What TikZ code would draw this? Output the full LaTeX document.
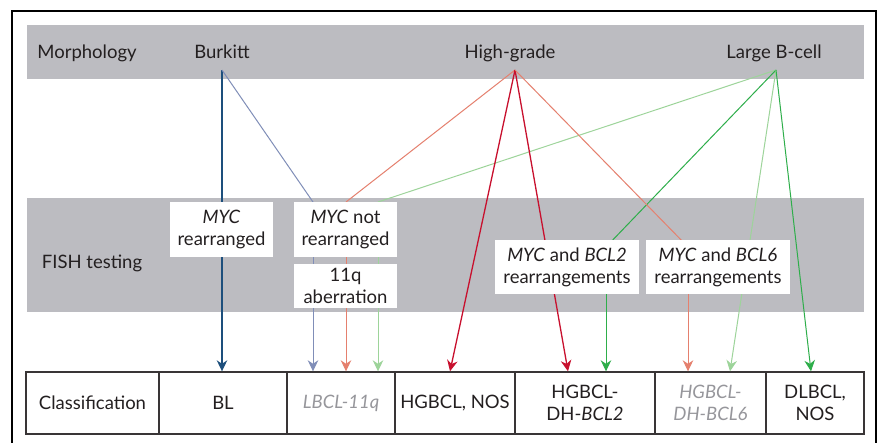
\documentclass[tikz,border=0pt]{standalone}
\usepackage{fontspec}
\setmainfont{Lato}
\usetikzlibrary{arrows.meta,calc}

\definecolor{band}{RGB}{188,188,193}
\definecolor{ink}{RGB}{35,31,32}
\definecolor{dimtext}{RGB}{150,150,155}
\definecolor{navy}{RGB}{29,79,124}
\definecolor{slate}{RGB}{128,142,184}
\definecolor{salmon}{RGB}{229,128,110}
\definecolor{crimson}{RGB}{200,16,46}
\definecolor{leaf}{RGB}{46,174,74}
\definecolor{paleleaf}{RGB}{157,212,154}

\tikzset{
  lbl/.style={text=ink, font=\fontsize{18.5}{22}\selectfont, inner sep=0pt, anchor=base},
  fishbox/.style={fill=white, text=ink, align=center, inner sep=0pt,
    font=\fontsize{18.5}{22}\selectfont},
  cell/.style={draw=ink!90, line width=1.4pt, text=ink, align=center,
    inner sep=0pt, font=\fontsize{18.5}{22}\selectfont},
  link/.style={line width=1pt},
  tip/.style={-{Stealth[length=11pt,width=10.5pt,inset=3.5pt]}},
}

\begin{document}
\begin{tikzpicture}[x=1pt,y=-1pt]
\useasboundingbox (0,0) rectangle (878,442);
\fill[white] (0,0) rectangle (878,442);

% outer frame
\draw[black, line width=2pt] (12,443) -- (12,11) -- (876,11) -- (876,443);

% grey bands
\fill[band] (27,25) rectangle (864,79);
\fill[band] (27,198) rectangle (864,312);

% band labels (placed on their baselines)
\node[lbl] (morph) at (87,58.3) {Morphology};
\node[lbl] (burkitt) at (222,58.3) {Burkitt};
\node[lbl] (highgrade) at (510,58.3) {High-grade};
\node[lbl] (largeb) at (774,58.3) {Large B-cell};
\node[lbl] (fish) at (92,268.3) {FISH testing};

% start points under the morphology labels
\coordinate (bk) at (222,70);
\coordinate (hg) at (515,70);
\coordinate (lb) at (776,70);

% classification table
\node[cell, minimum width=133pt, minimum height=62pt] (cls) at (92.5,403) {Classification};
\node[cell, minimum width=128pt, minimum height=62pt] (bl) at (223,403) {BL};
\node[cell, minimum width=108pt, minimum height=62pt, text=dimtext] (lbcl) at (341,403) {\itshape LBCL-11q};
\node[cell, minimum width=120pt, minimum height=62pt] (hgnos) at (455,403) {HGBCL, NOS};
\node[cell, minimum width=140pt, minimum height=62pt] (dh2) at (585,403) {HGBCL-\\DH-\textit{BCL2}};
\node[cell, minimum width=111pt, minimum height=62pt, text=dimtext] (dh6) at (710.5,403) {\itshape HGBCL-\\\itshape DH-BCL6};
\node[cell, minimum width=98pt, minimum height=62pt] (dlbcl) at (815,403) {DLBCL,\\NOS};

% junction points behind the FISH boxes
\coordinate (j1) at (313,202);
\coordinate (j2) at (346,202);
\coordinate (j3) at (378,202);
\coordinate (j4) at (606,247);
\coordinate (j5) at (688,247);

% connectors
\draw[link, navy, line width=1.4pt, tip] (bk) -- (bk |- bl.north);
\draw[link, slate] (bk) -- (j1);
\draw[link, slate, tip] (j1) -- (j1 |- lbcl.north);
\draw[link, salmon] (hg) -- (j2);
\draw[link, salmon, tip] (j2) -- (j2 |- lbcl.north);
\draw[link, paleleaf] (lb) -- (j3);
\draw[link, paleleaf, tip] (j3) -- (j3 |- lbcl.north);
\draw[link, crimson, line width=1.3pt, tip] (hg) -- ($(hgnos.north)+(-5,0)$);
\draw[link, crimson, line width=1.3pt, tip] (hg) -- ($(dh2.north)+(-17,0)$);
\draw[link, leaf] (lb) -- (j4);
\draw[link, leaf, tip] (j4) -- (j4 |- dh2.north);
\draw[link, salmon] (hg) -- (j5);
\draw[link, salmon, tip] (j5) -- (j5 |- dh6.north);
\draw[link, paleleaf, tip] (lb) -- ($(dh6.north)+(19.5,0)$);
\draw[link, leaf, tip] (lb) -- ($(dlbcl.north)+(-4,0)$);

% FISH result boxes
\node[fishbox, minimum width=103pt, minimum height=55pt] (mycr) at (221.5,229.5) {\textit{MYC}\\rearranged};
\node[fishbox, minimum width=103pt, minimum height=55pt] (mycn) at (345.5,229.5) {\textit{MYC} not\\rearranged};
\node[fishbox, minimum width=103pt, minimum height=44pt] (q11) at (345.5,286) {11q\\aberration};
\node[fishbox, minimum width=144pt, minimum height=54pt] (b2) at (567,267) {\textit{MYC} and \textit{BCL2}\\rearrangements};
\node[fishbox, minimum width=144pt, minimum height=54pt] (b6) at (718,267) {\textit{MYC} and \textit{BCL6}\\rearrangements};
\end{tikzpicture}
\end{document}
